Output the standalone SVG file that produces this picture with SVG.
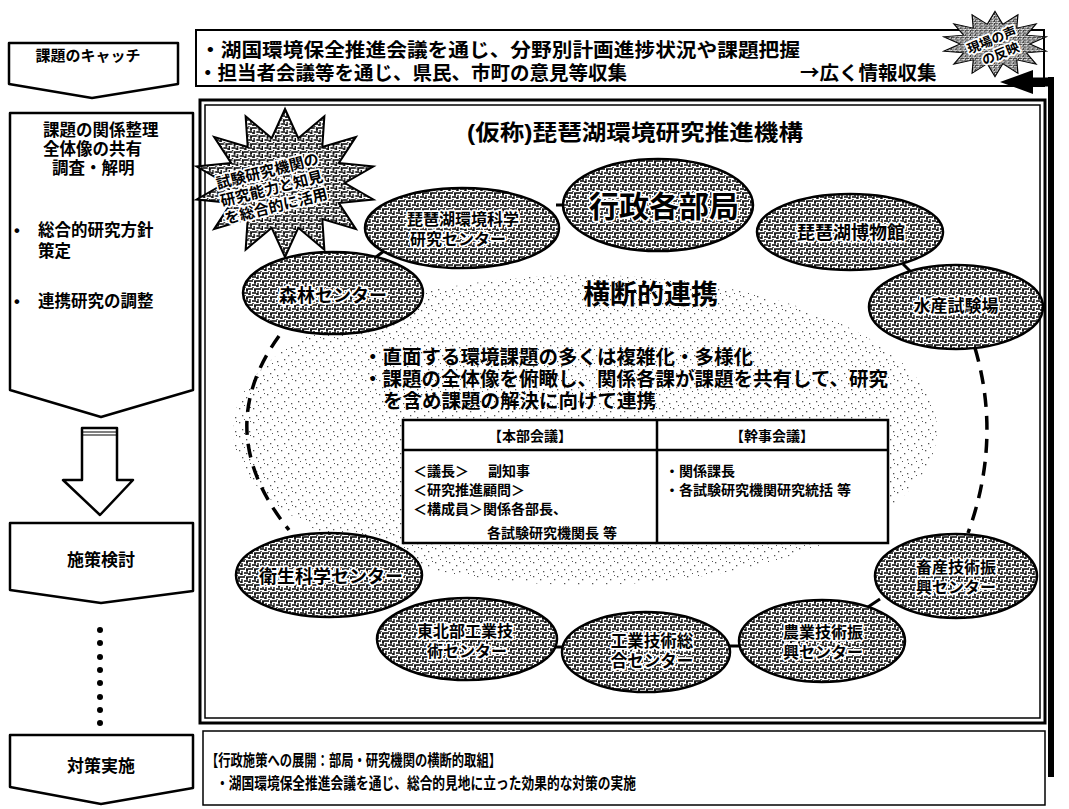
<svg xmlns="http://www.w3.org/2000/svg" xmlns:xlink="http://www.w3.org/1999/xlink" width="1069" height="809" viewBox="0 0 1069 809">
<defs>
<style>
.t{font-family:"Liberation Sans","Noto Sans CJK JP","Noto Sans CJK SC",sans-serif;font-weight:700;fill:#000}
.cjk{font-family:"Noto Sans CJK JP","Noto Sans CJK SC",sans-serif}
.h{stroke:#fff;stroke-width:3.5;paint-order:stroke;stroke-linejoin:round}
.node{fill:url(#maze);stroke:#000;stroke-width:2.5}
.box{fill:#fff;stroke:#000;stroke-width:2.5;stroke-linejoin:round}
.tick{stroke:#000;stroke-width:3;fill:none}
.ring{stroke:#000;stroke-width:3.5;fill:none;stroke-dasharray:14 9}
</style>
<pattern id="maze" width="8" height="8" patternUnits="userSpaceOnUse">
<rect width="8" height="8" fill="#fff"/>
<path d="M0,1H5M7,0V4M2,3V7M4,5H8M0,6H2M5,7V8M6,2H8" stroke="#000" stroke-width="1.3" fill="none"/>
</pattern>
<pattern id="stip" width="14" height="14" patternUnits="userSpaceOnUse">
<rect width="14" height="14" fill="#fff"/>
<g fill="#555"><rect x="1" y="2" width="1.3" height="1.3"/><rect x="8" y="5" width="1.3" height="1.3"/><rect x="4" y="9" width="1.3" height="1.3"/><rect x="11" y="11" width="1.3" height="1.3"/><rect x="12" y="1" width="1" height="1"/><rect x="6" y="13" width="1" height="1"/></g>
</pattern>
<path id="star" d="M0,-74L12.9,-44.8L38.2,-66.7L36.2,-36L68.8,-46.1L52.3,-20L85.8,-16.5L58,0L85.8,16.5L52.3,20L68.8,46.1L36.2,36L38.2,66.7L12.9,44.8L0,74L-12.9,44.8L-38.2,66.7L-36.2,36L-68.8,46.1L-52.3,20L-85.8,16.5L-58,0L-85.8,-16.5L-52.3,-20L-68.8,-46.1L-36.2,-36L-38.2,-66.7L-12.9,-44.8Z"/>
</defs>
<rect width="1069" height="809" fill="#fff"/>

<!-- left column -->
<g id="step-catch">
<path class="box" d="M9,43H178V84L92,98L9,84Z"/>
<text class="t" x="88" y="61" font-size="15" text-anchor="middle">課題のキャッチ</text>
</g>
<g id="step-organize">
<path class="box" d="M10,113H193V390L101,417L10,390Z"/>
<text class="t" font-size="16.5"><tspan x="43" y="136">課題の関係整理</tspan><tspan x="43" y="155">全体像の共有</tspan><tspan x="52" y="174">調査・解明</tspan></text>
<text class="t" font-size="16.5"><tspan x="14" y="236">•</tspan><tspan x="38" y="236">総合的研究方針</tspan><tspan x="38" y="257">策定</tspan></text>
<text class="t" font-size="16.5"><tspan x="14" y="307">•</tspan><tspan x="38" y="307">連携研究の調整</tspan></text>
</g>
<g id="down-arrow">
<path class="box" d="M82,428H117V480H133L100,515L63,480H82Z"/>
<path d="M83,432H116M83,435H116" stroke="#000" stroke-width="1.2"/>
</g>
<g id="step-policy">
<path class="box" d="M10,523H193V591L101,603L10,590Z"/>
<text class="t" x="101" y="566" font-size="17" text-anchor="middle">施策検討</text>
</g>
<g id="dots" fill="#000">
<circle cx="100" cy="630" r="3"/><circle cx="100" cy="643" r="3"/><circle cx="100" cy="657" r="3"/><circle cx="100" cy="670" r="3"/><circle cx="100" cy="683" r="3"/><circle cx="100" cy="697" r="3"/><circle cx="100" cy="710" r="3"/><circle cx="100" cy="723" r="3"/>
</g>
<g id="step-implement">
<path class="box" d="M10,735H193V788L101,804L10,787Z"/>
<text class="t" x="101" y="772" font-size="17" text-anchor="middle">対策実施</text>
</g>

<!-- top info box -->
<g id="info-top">
<rect x="196" y="30" width="848" height="56" fill="#fff" stroke="#000" stroke-width="2"/>
<text class="t" x="200" y="57" font-size="19.5" textLength="600" lengthAdjust="spacingAndGlyphs">・湖国環境保全推進会議を通じ、分野別計画進捗状況や課題把握</text>
<text class="t" font-size="19.5"><tspan x="198" y="80">・担当者会議等を通じ、県民、市町の意見等収集</tspan><tspan x="800" y="80" class="cjk">→</tspan><tspan>広く情報収集</tspan></text>
</g>

<!-- main box -->
<g id="main-frame">
<rect x="200" y="100" width="845" height="623" fill="#fff" stroke="#000" stroke-width="3"/>
<rect x="205" y="105" width="835" height="613" fill="none" stroke="#000" stroke-width="1.5"/>
</g>

<!-- bottom box -->
<g id="info-bottom">
<rect x="203" y="731" width="842" height="74" fill="#fff" stroke="#000" stroke-width="1.5"/>
<text class="t" x="206" y="766" font-size="16" textLength="295" lengthAdjust="spacingAndGlyphs">【行政施策への展開：部局・研究機関の横断的取組】</text>
<text class="t" x="216" y="789" font-size="16" textLength="420" lengthAdjust="spacingAndGlyphs">・湖国環境保全推進会議を通じ、総合的見地に立った効果的な対策の実施</text>
</g>

<!-- stipple area -->
<ellipse cx="585" cy="430" rx="352" ry="155" fill="url(#stip)"/>

<text class="t" x="467" y="140" font-size="22" textLength="336" lengthAdjust="spacingAndGlyphs">(仮称)琵琶湖環境研究推進機構</text>
<text class="t" x="583" y="304" font-size="27">横断的連携</text>

<!-- connectors -->
<g id="connectors">
<path class="ring" d="M279,336Q210,432 289,530"/>
<path class="ring" d="M975,348Q1002,440 968,533"/>
<path class="tick" d="M376,257L388,248"/>
<path class="tick" d="M556,205H566"/>
<path class="tick" d="M903,264L913,274"/>
<path class="tick" d="M868,607L880,599"/>
<path class="tick" d="M726,646H741"/>
<path class="tick" d="M555,647H566"/>
</g>

<g id="note-text">
<text class="t" font-size="19.5"><tspan x="363" y="364">・直面する環境課題の多くは複雑化・多様化</tspan><tspan x="363" y="386">・課題の全体像を俯瞰し、関係各課が課題を共有して、研究</tspan><tspan x="383" y="408">を含め課題の解決に向けて連携</tspan></text>
</g>

<!-- table -->
<g id="table">
<rect x="403" y="420" width="485" height="123" fill="#fff" stroke="#000" stroke-width="2.5"/>
<path d="M403,450H888M657,420V543" stroke="#000" stroke-width="2.5"/>
<text class="t" x="530" y="441" font-size="14" text-anchor="middle">【本部会議】</text>
<text class="t" x="772" y="441" font-size="14" text-anchor="middle">【幹事会議】</text>
<text class="t" font-size="14"><tspan x="413" y="476">＜議長＞</tspan><tspan x="488" y="476">副知事</tspan><tspan x="413" y="495">＜研究推進顧問＞</tspan><tspan x="413" y="514">＜構成員＞関係各部長、</tspan><tspan x="487" y="538">各試験研究機関長 等</tspan></text>
<text class="t" font-size="14"><tspan x="665" y="476">・関係課長</tspan><tspan x="665" y="495">・各試験研究機関研究統括 等</tspan></text>
</g>

<!-- nodes -->
<g id="n-gyosei">
<ellipse class="node" cx="658" cy="205" rx="95" ry="46"/>
<text class="t h" x="664" y="217" font-size="30" text-anchor="middle">行政各部局</text>
</g>
<g id="n-kankyo">
<ellipse class="node" cx="462" cy="228" rx="97" ry="40"/>
<text class="t h" font-size="16" text-anchor="middle"><tspan x="463" y="225">琵琶湖環境科学</tspan><tspan x="458" y="245">研究センター</tspan></text>
</g>
<g id="n-hakubutsukan">
<ellipse class="node" cx="850" cy="232" rx="93" ry="38"/>
<text class="t h" x="851" y="239" font-size="18" text-anchor="middle">琵琶湖博物館</text>
</g>
<g id="n-suisan">
<ellipse class="node" cx="956" cy="307" rx="87" ry="42"/>
<text class="t h" x="956" y="312" font-size="17" text-anchor="middle">水産試験場</text>
</g>
<g id="n-shinrin">
<ellipse class="node" cx="333" cy="293" rx="90" ry="41"/>
<text class="t h" x="333" y="302" font-size="18" text-anchor="middle">森林センター</text>
</g>
<g id="n-eisei">
<ellipse class="node" cx="329" cy="575" rx="93" ry="42"/>
<text class="t h" x="331" y="583" font-size="18" text-anchor="middle">衛生科学センター</text>
</g>
<g id="n-tohoku">
<ellipse class="node" cx="467" cy="639" rx="90" ry="41"/>
<text class="t h" font-size="16" text-anchor="middle"><tspan x="465" y="637">東北部工業技</tspan><tspan x="467" y="657">術センター</tspan></text>
</g>
<g id="n-kogyo">
<ellipse class="node" cx="646" cy="652" rx="84" ry="40"/>
<text class="t h" font-size="16.5" text-anchor="middle"><tspan x="652" y="647">工業技術総</tspan><tspan x="652" y="667">合センター</tspan></text>
</g>
<g id="n-nogyo">
<ellipse class="node" cx="822" cy="641" rx="83" ry="41"/>
<text class="t h" font-size="16" text-anchor="middle"><tspan x="823" y="638">農業技術振</tspan><tspan x="823" y="658">興センター</tspan></text>
</g>
<g id="n-chikusan">
<ellipse class="node" cx="956" cy="576" rx="81" ry="42"/>
<text class="t h" font-size="16" text-anchor="middle"><tspan x="956" y="573">畜産技術振</tspan><tspan x="956" y="593">興センター</tspan></text>
</g>

<!-- starburst callout left -->
<g id="burst-research">
<use href="#star" transform="translate(285,183) scale(1.03,1)" fill="url(#maze)" stroke="#000" stroke-width="2"/>
<text class="t h" font-size="15" text-anchor="middle" transform="rotate(-14 272 190)"><tspan x="272" y="176">試験研究機関の</tspan><tspan x="272" y="194">研究能力と知見</tspan><tspan x="272" y="212">を総合的に活用</tspan></text>
</g>

<!-- feedback loop arrow -->
<g id="feedback">
<path d="M1051,77V777" stroke="#000" stroke-width="6" fill="none"/>
<path d="M1054,82H1028" stroke="#000" stroke-width="9" fill="none"/>
<path d="M1000,82L1033,70V94Z" fill="#000"/>
</g>

<!-- starburst callout top right -->
<g id="burst-voice">
<use href="#star" transform="translate(995,44) scale(0.6,0.44)" fill="url(#maze)" stroke="#000" stroke-width="2" vector-effect="non-scaling-stroke"/>
<text class="t h" font-size="13" text-anchor="middle" transform="rotate(-22 995 48)"><tspan x="995" y="44">現場の声</tspan><tspan x="998" y="60">の反映</tspan></text>
</g>
</svg>
